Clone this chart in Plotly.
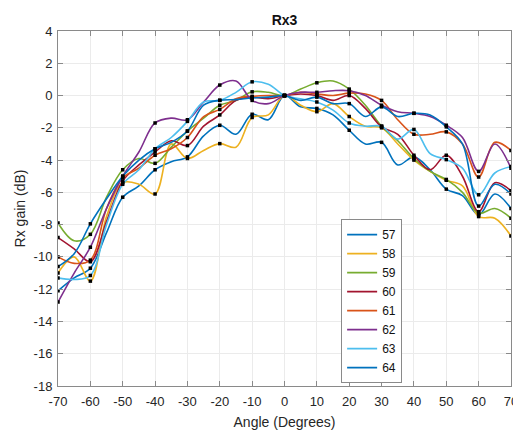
import plotly.graph_objects as go

angles = [-70, -65, -60, -55, -50, -45, -40, -35, -30, -25, -20, -15, -10, -5, 0,
          5, 10, 15, 20, 25, 30, 35, 40, 45, 50, 55, 60, 65, 70]

s57 = [-12.1, -11.3, -10.7, -8.5, -6.3, -5.6, -4.6, -4.1, -3.8, -2.5, -1.84, -2.4, -1.16, -1.5, 0,
       -0.7, -0.8, -1.2, -2.15, -3.0, -2.9, -4.3, -3.8, -4.6, -5.8, -6.2, -7.4, -6.1, -7.0]
s58 = [-11.0, -10.0, -11.5, -7.5, -5.4, -5.5, -6.1, -3.0, -3.9, -3.4, -2.98, -3.2, -1.36, -1.2, 0,
       -0.6, -1.0, -0.5, -1.3, -1.9, -2.0, -3.0, -4.0, -4.7, -5.25, -5.6, -7.5, -7.6, -8.7]
s59 = [-7.9, -9.0, -8.6, -6.3, -4.6, -3.9, -4.2, -3.2, -2.2, -1.4, -0.6, -0.3, 0.23, 0.2, 0,
       0.4, 0.79, 0.9, 0.4, -0.6, -1.9, -2.8, -3.9, -4.7, -5.2, -6.0, -7.3, -7.0, -7.6]
s60 = [-8.8, -9.5, -10.3, -7.8, -5.3, -4.3, -3.5, -2.8, -3.1, -1.9, -1.2, -0.3, -0.1, -0.2, 0,
       0.1, 0.0, -0.3, 0.0, -0.8, -1.94, -2.4, -3.7, -4.6, -3.7, -5.0, -7.2, -5.4, -5.9]
s61 = [-10.0, -10.4, -10.2, -7.0, -5.1, -4.5, -3.7, -3.3, -2.6, -1.3, -0.86, -0.2, -0.05, 0.0, 0,
       0.2, 0.1, 0.0, 0.15, 0.1, -0.3, -1.5, -2.4, -2.4, -2.25, -3.0, -5.05, -2.9, -3.4]
s62 = [-12.8, -11.0, -9.4, -7.0, -5.0, -3.5, -1.7, -1.4, -1.5, -0.4, 0.65, 0.9, -0.3, -0.5, 0,
       0.2, 0.2, 0.3, 0.3, 0.0, -0.6, -1.0, -1.1, -1.3, -1.84, -2.6, -4.7, -3.0, -4.5]
s63 = [-11.3, -11.4, -11.15, -8.0, -5.5, -4.6, -3.3, -2.6, -1.6, -0.4, -0.3, 0.2, 0.85, 0.7, 0,
       -0.2, -0.4, -0.9, -1.7, -1.9, -1.9, -2.7, -2.1, -3.6, -3.97, -4.5, -6.15, -4.8, -4.4]
s64 = [-10.6, -9.8, -7.95, -6.4, -5.0, -4.0, -3.3, -2.9, -2.2, -0.6, -0.29, -0.25, -0.15, -0.1, 0,
       -0.3, -0.1, -0.5, -0.5, -1.3, -0.7, -1.3, -1.1, -1.2, -1.94, -3.0, -6.85, -5.5, -6.1]

names = ["57", "58", "59", "60", "61", "62", "63", "64"]
series = [s57, s58, s59, s60, s61, s62, s63, s64]
colors = ["#0072BD", "#EDB120", "#77AC30", "#A2142F", "#D95319", "#7E2F8E", "#4DBEEE", "#0072BD"]

x_ticks = list(range(-70, 71, 10))
y_ticks = list(range(-18, 5, 2))

fig = go.Figure()
for name, vals, col in zip(names, series, colors):
    fig.add_trace(go.Scatter(x=angles, y=vals, mode="lines", name=name,
                             line=dict(color=col, width=1.6, shape="spline", smoothing=1.0)))
for vals in series:
    fig.add_trace(go.Scatter(x=angles[::2], y=vals[::2], mode="markers", showlegend=False,
                             marker=dict(color="black", size=3.5, symbol="square"),
                             hoverinfo="skip"))

axis_common = dict(showgrid=True, gridcolor="#ebebeb", gridwidth=1, zeroline=False,
                   showline=True, linecolor="#8a8a8a", linewidth=1, mirror="ticks",
                   ticks="inside", ticklen=5, tickcolor="#8a8a8a", automargin=False,
                   tickfont=dict(size=13, color="#262626"))

fig.update_layout(
    width=513, height=425,
    margin=dict(l=50, r=10, t=23, b=47),
    paper_bgcolor="white", plot_bgcolor="white",
    font=dict(family="Liberation Sans, Arial, sans-serif", color="#262626"),
    title=dict(text="<b>Rx3</b>", xref="paper", x=0.5, xanchor="center",
               yref="container", y=0.972, yanchor="middle",
               font=dict(size=14, color="#111111")),
    xaxis=dict(range=[-70, 70], tickvals=x_ticks, ticktext=[str(v) for v in x_ticks],
               ticklabelstandoff=3,
               title=dict(text="Angle (Degrees)", font=dict(size=14), standoff=9), **axis_common),
    yaxis=dict(range=[-18, 4], tickvals=y_ticks, ticktext=[str(v) for v in y_ticks],
               ticklabelstandoff=2,
               title=dict(text="Rx gain (dB)", font=dict(size=14), standoff=4), **axis_common),
    legend=dict(x=0.625, y=0.47, xanchor="left", yanchor="top",
                bgcolor="white", bordercolor="#8a8a8a", borderwidth=1,
                font=dict(size=12, color="#111111"), tracegroupgap=0, itemwidth=30),
    showlegend=True,
)

fig.write_html("out.html")
